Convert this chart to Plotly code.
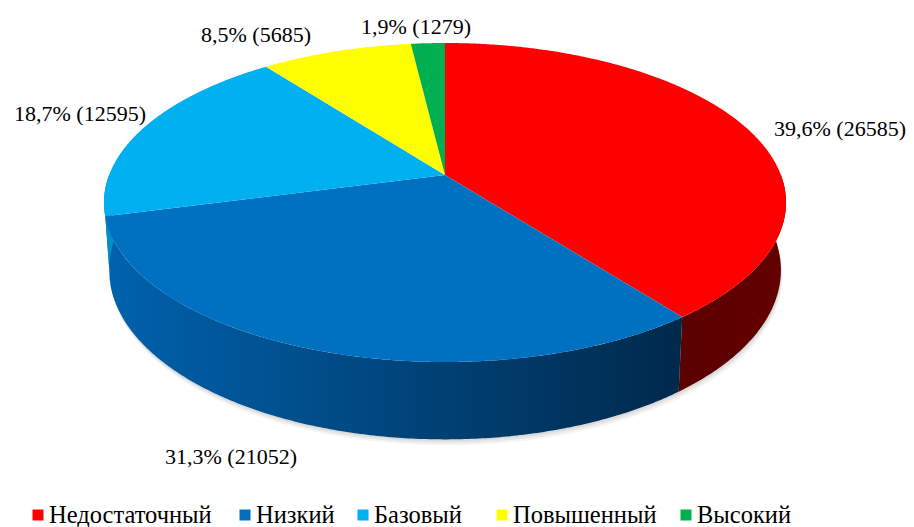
import numpy as np
import plotly.graph_objects as go

# ---------------- data ----------------
categories = ["Недостаточный", "Низкий", "Базовый", "Повышенный", "Высокий"]
counts = [26585, 21052, 12595, 5685, 1279]
percents = [39.6, 31.3, 18.7, 8.5, 1.9]

# ---------------- styles ----------------
top_colors = ["#FF0000", "#0070C0", "#00B0F0", "#FFFF00", "#00B050"]
side_colors = [("#5A0000", "#640000"), ("#0062AE", "#00294B"),
               ("#0090C8", "#0090C8"), ("#B5B500", "#B5B500"), ("#007A38", "#007A38")]
FONT = "Liberation Serif, Times New Roman, serif"

# label positions (pixel layout)
label_pos = [(840, 128), (231, 456), (80, 113), (256, 34), (416, 26)]
legend_sq_x = [38, 245, 363, 502, 686]
legend_y = 514

# ---------------- 3D pie geometry (pixel space) ----------------
CX = 445.0
A_TOP, D_TOP, E_TOP, K = 335.9, -124.6, 175.0, 0.1724
S_BOT, E_BOT = 0.985, 240.9


def proj(phi_deg, s, e):
    p = np.radians(phi_deg)
    den = 1 + K * np.cos(p)
    x = CX + s * A_TOP * np.sin(p) / den
    y = (s * D_TOP * np.cos(p) + e) / den
    return x, y


total = float(sum(counts))
bounds = np.concatenate([[0.0], np.cumsum(counts) / total * 360.0])

fig = go.Figure()

# soft shadow under the base
for off, alpha in [(6, 0.04), (4, 0.05), (2, 0.06)]:
    ph = np.linspace(90, 270, 120)
    bx, by = proj(ph, S_BOT, E_BOT)
    tx, ty = proj(ph[::-1], 1.0, E_TOP)
    fig.add_trace(go.Scatter(
        x=np.concatenate([bx + off * 0.3, tx]), y=np.concatenate([by + off, ty]),
        fill="toself", mode="none", fillcolor=f"rgba(0,0,0,{alpha})",
        hoverinfo="skip", showlegend=False))

# side walls (front half only)
for i in range(len(counts)):
    a0, a1 = max(bounds[i], 90.0), min(bounds[i + 1], 270.0)
    if a1 <= a0:
        continue
    ph = np.linspace(a0, a1, max(4, int((a1 - a0) * 2)))
    tx, ty = proj(ph, 1.0, E_TOP)
    bx, by = proj(ph[::-1], S_BOT, E_BOT)
    c0, c1 = side_colors[i]
    fig.add_trace(go.Scatter(
        x=np.concatenate([tx, bx, tx[:1]]), y=np.concatenate([ty, by, ty[:1]]),
        fill="toself", mode="none",
        fillgradient=dict(type="horizontal", colorscale=[[0, c0], [1, c1]]),
        hoverinfo="skip", showlegend=False))

# top faces
for i in range(len(counts)):
    a0, a1 = bounds[i], bounds[i + 1]
    ph = np.linspace(a0, a1, max(4, int((a1 - a0) * 3)))
    tx, ty = proj(ph, 1.0, E_TOP)
    fig.add_trace(go.Scatter(
        x=np.concatenate([[CX], tx, [CX]]), y=np.concatenate([[E_TOP], ty, [E_TOP]]),
        fill="toself", mode="none", fillcolor=top_colors[i],
        hoverinfo="skip", showlegend=False))

# data labels
for i in range(len(counts)):
    txt = f"{percents[i]:.1f}%".replace(".", ",") + f" ({counts[i]})"
    fig.add_annotation(x=label_pos[i][0], y=label_pos[i][1], text=txt,
                       showarrow=False, xanchor="center", yanchor="middle",
                       font=dict(family=FONT, size=22, color="#000000"))

# legend (manual)
fig.add_trace(go.Scatter(
    x=legend_sq_x, y=[legend_y + 1] * len(categories), mode="markers",
    marker=dict(symbol="square", size=11, color=top_colors),
    hoverinfo="skip", showlegend=False))
for i, cat in enumerate(categories):
    fig.add_annotation(x=legend_sq_x[i] + 9, y=legend_y, text=cat,
                       showarrow=False, xanchor="left", yanchor="middle",
                       font=dict(family=FONT, size=24.5, color="#000000"))

fig.update_layout(
    width=914, height=527,
    margin=dict(l=0, r=0, t=0, b=0),
    paper_bgcolor="white", plot_bgcolor="white",
    xaxis=dict(range=[0, 914], visible=False, fixedrange=True),
    yaxis=dict(range=[527, 0], visible=False, fixedrange=True),
    showlegend=False,
)

fig.write_html("out.html", config={"displayModeBar": False},
               post_script="document.body.style.margin='0';")
